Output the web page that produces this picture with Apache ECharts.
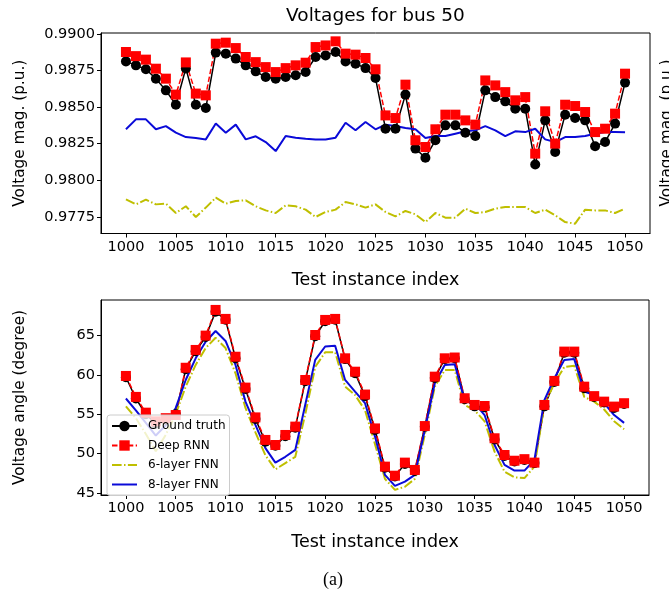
<!DOCTYPE html>
<html>
<head>
<meta charset="utf-8">
<script src="https://cdn.jsdelivr.net/npm/echarts@6/dist/echarts.min.js"></script>
<style>html,body{margin:0;padding:0;background:#fff;}#c{width:669px;height:596px;}</style>
</head>
<body>
<div id="c"></div>
<script>
const idx = [1000,1001,1002,1003,1004,1005,1006,1007,1008,1009,1010,1011,1012,1013,1014,1015,1016,1017,1018,1019,1020,1021,1022,1023,1024,1025,1026,1027,1028,1029,1030,1031,1032,1033,1034,1035,1036,1037,1038,1039,1040,1041,1042,1043,1044,1045,1046,1047,1048,1049,1050];
const xTicks = [1000,1005,1010,1015,1020,1025,1030,1035,1040,1045,1050];
const magTicks = [0.9775,0.9800,0.9825,0.9850,0.9875,0.9900];
const angTicks = [45,50,55,60,65];
const seriesNames = ['Ground truth','Deep RNN','6-layer FNN','8-layer FNN'];

const gtMag = [0.98812,0.98785,0.98758,0.98694,0.98614,0.98516,0.98764,0.98516,0.98493,0.98872,0.98865,0.98831,0.98785,0.98744,0.98705,0.98694,0.98705,0.98717,0.98739,0.98842,0.98853,0.98876,0.98812,0.98796,0.98766,0.98698,0.98352,0.98352,0.98585,0.98216,0.98154,0.98273,0.98375,0.98375,0.98325,0.98302,0.98614,0.98568,0.98539,0.98489,0.98489,0.98107,0.98409,0.98193,0.98448,0.98425,0.98409,0.98232,0.98261,0.98387,0.98667];
const rnnMag = [0.98876,0.98848,0.98824,0.98762,0.98694,0.98585,0.98805,0.98592,0.98580,0.98933,0.98940,0.98903,0.98842,0.98807,0.98773,0.98739,0.98766,0.98785,0.98803,0.98910,0.98921,0.98949,0.98865,0.98858,0.98835,0.98758,0.98443,0.98425,0.98653,0.98273,0.98227,0.98348,0.98448,0.98448,0.98409,0.98380,0.98682,0.98648,0.98602,0.98546,0.98568,0.98182,0.98471,0.98250,0.98516,0.98507,0.98466,0.98329,0.98352,0.98455,0.98728];
const fnn6Mag = [0.97869,0.97835,0.97867,0.97835,0.97840,0.97776,0.97822,0.97749,0.97813,0.97881,0.97840,0.97858,0.97863,0.97822,0.97794,0.97776,0.97828,0.97822,0.97799,0.97749,0.97783,0.97799,0.97851,0.97835,0.97813,0.97835,0.97783,0.97753,0.97790,0.97767,0.97714,0.97776,0.97744,0.97744,0.97806,0.97776,0.97783,0.97806,0.97817,0.97817,0.97817,0.97776,0.97799,0.97760,0.97714,0.97703,0.97799,0.97794,0.97794,0.97776,0.97806];
const fnn8Mag = [0.98348,0.98416,0.98416,0.98348,0.98370,0.98325,0.98295,0.98288,0.98279,0.98387,0.98325,0.98380,0.98279,0.98300,0.98261,0.98199,0.98302,0.98291,0.98284,0.98279,0.98279,0.98291,0.98393,0.98341,0.98398,0.98348,0.98380,0.98370,0.98357,0.98348,0.98288,0.98302,0.98302,0.98318,0.98334,0.98341,0.98370,0.98341,0.98302,0.98334,0.98329,0.98352,0.98279,0.98261,0.98295,0.98295,0.98302,0.98318,0.98329,0.98329,0.98327];

const gtAng = [59.7,57.0,55.0,53.8,54.3,55.0,60.7,63.0,64.8,68.0,67.0,62.1,58.2,54.4,51.5,51.0,52.2,53.3,59.2,64.9,66.8,67.0,62.0,60.2,57.3,53.0,48.2,47.1,48.7,47.8,53.4,59.6,62.0,62.1,56.9,56.0,55.9,51.8,49.7,49.0,49.2,48.8,56.0,59.1,62.8,62.8,58.3,57.2,56.5,55.8,56.3];
const rnnAng = [59.86,57.2,55.2,54.1,54.5,54.9,60.9,63.16,64.98,68.24,67.1,62.3,58.38,54.6,51.74,51.1,52.37,53.43,59.35,65.06,66.97,67.1,62.1,60.4,57.5,53.2,48.35,47.2,48.86,47.93,53.5,59.77,62.1,62.2,57.03,56.18,56.05,51.95,49.83,49.1,49.3,48.86,56.18,59.23,62.95,62.95,58.5,57.3,56.6,55.97,56.4];
const fnn6Ang = [56.0,54.5,52.5,50.3,52.4,55.0,58.5,61.26,63.4,64.7,63.4,60.2,55.8,52.7,49.8,48.0,48.8,49.6,55.0,61.0,62.87,62.87,58.5,57.45,55.5,51.2,46.8,45.4,45.8,46.8,52.4,58.5,60.6,60.6,56.2,55.5,54.1,50.25,47.7,47.0,46.9,48.35,56.2,58.93,61.0,61.15,57.2,56.6,55.6,54.1,53.1];
const fnn8Ang = [57.0,55.5,53.9,52.3,53.6,55.8,59.35,62.1,64.2,65.57,64.3,61.26,56.6,53.64,50.7,48.86,49.6,50.47,56.2,61.9,63.6,63.7,59.35,57.87,56.4,52.16,47.3,45.9,46.45,47.3,53.0,58.93,61.26,61.35,56.7,56.4,54.9,51.1,48.57,47.85,47.85,49.2,56.8,59.57,61.9,62.0,57.87,57.45,56.4,54.9,53.9];

const FONT = 'DejaVu Sans';
const pairs = arr => idx.map((x, i) => [x, arr[i]]);

function xAxis(g) {
  return {
    type: 'value', gridIndex: g, min: 997.5, max: 1052.5,
    axisLine: { show: true, onZero: false, lineStyle: { color: '#000', width: 1 } },
    axisTick: { show: true, inside: false, length: 4, customValues: xTicks, lineStyle: { color: '#000', width: 1 } },
    axisLabel: { customValues: xTicks, color: '#000', fontFamily: FONT, fontSize: 14.5, margin: 6, formatter: v => String(v) },
    splitLine: { show: false },
    name: 'Test instance index', nameLocation: 'middle', nameGap: 38,
    nameTextStyle: { color: '#000', fontFamily: FONT, fontSize: 17.5 }
  };
}
function yAxis(g, min, max, ticks, fmt, name) {
  return {
    type: 'value', gridIndex: g, min: min, max: max,
    axisLine: { show: true, onZero: false, lineStyle: { color: '#000', width: 1 } },
    axisTick: { show: true, inside: false, length: 4, customValues: ticks, lineStyle: { color: '#000', width: 1 } },
    axisLabel: { customValues: ticks, color: '#000', fontFamily: FONT, fontSize: 14.5, margin: 6, formatter: fmt },
    splitLine: { show: false },
    name: name, nameLocation: 'middle', nameGap: 73,
    nameTextStyle: { color: '#000', fontFamily: FONT, fontSize: 15.3 }
  };
}
function seriesFor(g, gt, rnn, f6, f8) {
  return [
    { name: seriesNames[0], type: 'line', xAxisIndex: g, yAxisIndex: g, data: pairs(gt),
      symbol: 'circle', symbolSize: 10, itemStyle: { color: '#000' }, lineStyle: { color: '#000', width: 1.5 } },
    { name: seriesNames[1], type: 'line', xAxisIndex: g, yAxisIndex: g, data: pairs(rnn),
      symbol: 'rect', symbolSize: 10, itemStyle: { color: '#ff0000' }, lineStyle: { color: '#ff0000', width: 1.5, type: [5.5, 2.4] } },
    { name: seriesNames[2], type: 'line', xAxisIndex: g, yAxisIndex: g, data: pairs(f6),
      symbol: 'none', itemStyle: { color: '#bfbf00' }, lineStyle: { color: '#bfbf00', width: 2, type: [9.6, 2.4, 1.5, 2.4] } },
    { name: seriesNames[3], type: 'line', xAxisIndex: g, yAxisIndex: g, data: pairs(f8),
      symbol: 'none', itemStyle: { color: '#0a0ad8' }, lineStyle: { color: '#0a0ad8', width: 2 } }
  ];
}

const chart = echarts.init(document.getElementById('c'), null, { renderer: 'canvas' });
chart.setOption({
  animation: false,
  backgroundColor: '#fff',
  grid: [
    { left: 101, top: 33, width: 549, height: 200.5, show: true, borderColor: '#000', borderWidth: 1, backgroundColor: 'transparent' },
    { left: 101, top: 300, width: 548, height: 195, show: true, borderColor: '#000', borderWidth: 1, backgroundColor: 'transparent' }
  ],
  xAxis: [xAxis(0), xAxis(1)],
  yAxis: [
    yAxis(0, 0.97636, 0.99006, magTicks, v => v.toFixed(4), 'Voltage mag. (p.u.)'),
    yAxis(1, 44.75, 69.5, angTicks, v => String(v), 'Voltage angle (degree)')
  ],
  legend: {
    data: [
      { name: seriesNames[0] },
      { name: seriesNames[1] },
      { name: seriesNames[2], itemStyle: { opacity: 0 } },
      { name: seriesNames[3], itemStyle: { opacity: 0 } }
    ],
    orient: 'vertical', left: 107, top: 415,
    itemWidth: 25, itemHeight: 13, itemGap: 7.5, padding: [5, 4],
    backgroundColor: 'rgba(255,255,255,0.8)', borderColor: '#cccccc', borderWidth: 1, borderRadius: 3,
    textStyle: { color: '#000', fontFamily: FONT, fontSize: 12, padding: [0, 0, 0, 6] }
  },
  graphic: [
    { type: 'text', x: 375.5, y: 16, style: { text: 'Voltages for bus 50', fontFamily: FONT, fontSize: 18.5, fill: '#000', align: 'center', verticalAlign: 'middle' } },
    { type: 'text', x: 660, y: 133, rotation: Math.PI / 2, style: { text: 'Voltage mag. (p.u.)', fontFamily: FONT, fontSize: 15.3, fill: '#000', align: 'center', verticalAlign: 'top' } },
    { type: 'text', x: 333, y: 580, style: { text: '(a)', fontFamily: 'Liberation Serif', fontSize: 18, fill: '#000', align: 'center', verticalAlign: 'middle' } }
  ],
  series: [].concat(seriesFor(0, gtMag, rnnMag, fnn6Mag, fnn8Mag), seriesFor(1, gtAng, rnnAng, fnn6Ang, fnn8Ang))
});
</script>
</body>
</html>
